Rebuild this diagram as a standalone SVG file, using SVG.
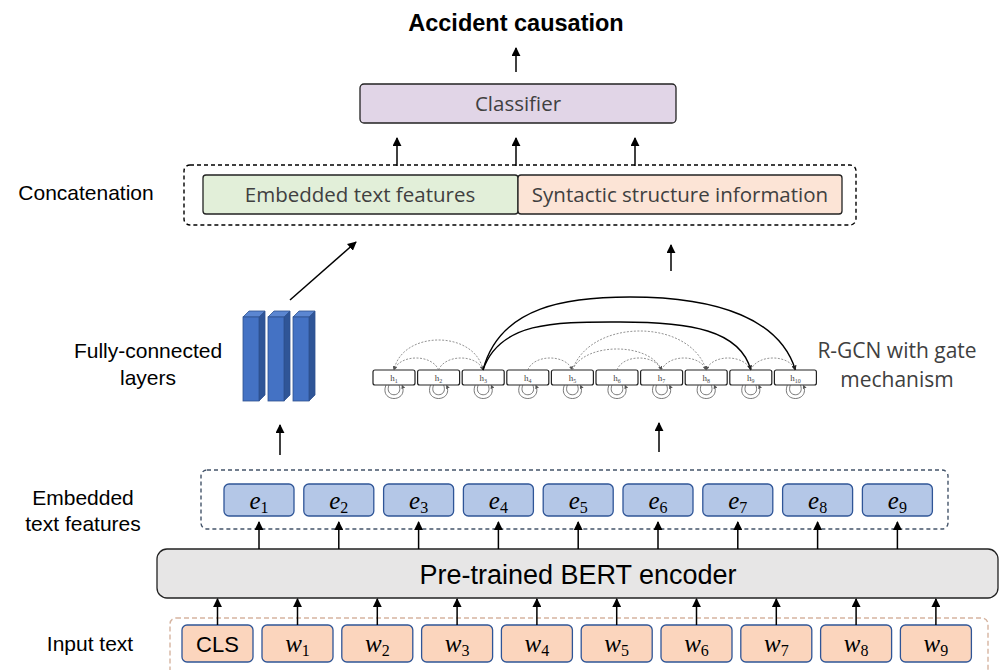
<svg xmlns="http://www.w3.org/2000/svg" width="1002" height="670" viewBox="0 0 1002 670">
<defs>
<marker id="arr" viewBox="0 0 10 10" refX="9" refY="5" markerWidth="9" markerHeight="9" markerUnits="userSpaceOnUse" orient="auto">
<path d="M0,0 L10,5 L0,10 z" fill="#000"/>
</marker>
<marker id="arrs" viewBox="0 0 10 10" refX="9" refY="5" markerWidth="5" markerHeight="5" markerUnits="userSpaceOnUse" orient="auto">
<path d="M0,0 L10,5 L0,10 z" fill="#222"/>
</marker>
<marker id="arrd" viewBox="0 0 10 10" refX="9" refY="5" markerWidth="4" markerHeight="4" markerUnits="userSpaceOnUse" orient="auto">
<path d="M0,0 L10,5 L0,10 z" fill="#555"/>
</marker>
</defs>
<style>
.lbl{font-family:"Liberation Sans",Arial,sans-serif;font-size:21px;fill:#000;text-anchor:middle}
.box{font-family:"Open Sans","DejaVu Sans",sans-serif;font-size:20.5px;fill:#404040;text-anchor:middle}
.math{font-family:"Liberation Serif","DejaVu Serif",serif;font-style:italic;font-size:25px;fill:#000;text-anchor:middle}
.sub{font-style:normal;font-size:16px}
.ebox{fill:#b4c7e7;stroke:#2f5597;stroke-width:1.3}
.wbox{fill:#fbd5bd;stroke:#2f5597;stroke-width:1.3}
.con{stroke:#000;stroke-width:1.5;fill:none;marker-end:url(#arr)}
.hbox{fill:#fff;stroke:#222;stroke-width:1.2}
.ht{font-family:"Liberation Serif","DejaVu Serif",serif;font-size:9px;fill:#444;text-anchor:middle}
.hs{font-size:6px}
.solid{stroke:#000;stroke-width:1.4;fill:none;marker-end:url(#arrs)}
.dash{stroke:#777;stroke-width:0.8;stroke-dasharray:2 1.5;fill:none;marker-end:url(#arrd)}
.loop{stroke:#555;stroke-width:0.8;fill:none}
.front{fill:#4472c4;stroke:#2f528f;stroke-width:0.8}
.side{fill:#2f5597;stroke:#2f528f;stroke-width:0.8}
.top{fill:#5b86d1;stroke:#2f528f;stroke-width:0.8}
</style>

<text x="516" y="31" font-family="Liberation Sans,Arial,sans-serif" font-size="23.5" font-weight="bold" text-anchor="middle">Accident causation</text>

<g id="classifier">
<rect x="360" y="84" width="316" height="39" rx="4" fill="#e1d5e7" stroke="#222" stroke-width="1.3"/>
<text class="box" x="518" y="111">Classifier</text>
</g>

<g id="concatenation">
<rect x="184" y="165" width="672" height="60" rx="6" fill="none" stroke="#000" stroke-width="1.4" stroke-dasharray="4 3"/>
<text class="lbl" x="86" y="200">Concatenation</text>
</g>
<g id="concat-embedded">
<rect x="203" y="175" width="315" height="39" rx="3" fill="#e2efd9" stroke="#222" stroke-width="1.3"/>
<text class="box" x="360" y="202">Embedded text features</text>
</g>
<g id="concat-syntactic">
<rect x="518" y="175" width="324" height="39" rx="3" fill="#fce4d6" stroke="#222" stroke-width="1.3"/>
<text class="box" x="680" y="202">Syntactic structure information</text>
</g>

<g id="fc-layers">
<polygon class="side" points="259,317 265,311 265,395 259,401"/>
<polygon class="top" points="243,317 249,311 265,311 259,317"/>
<rect class="front" x="243" y="317" width="16" height="84"/>
<polygon class="side" points="284,317 290,311 290,395 284,401"/>
<polygon class="top" points="268,317 274,311 290,311 284,317"/>
<rect class="front" x="268" y="317" width="16" height="84"/>
<polygon class="side" points="309,317 315,311 315,395 309,401"/>
<polygon class="top" points="293,317 299,311 315,311 309,317"/>
<rect class="front" x="293" y="317" width="16" height="84"/>
<text class="lbl" x="148" y="358">Fully-connected</text>
<text class="lbl" x="148" y="385">layers</text>
</g>

<g id="rgcn">
<text class="box" x="897" y="358" style="font-size:21px">R-GCN with gate</text>
<text class="box" x="897" y="387" style="font-size:21px">mechanism</text>
<g id="h-nodes">
<rect class="hbox" x="373" y="370" width="42" height="15" rx="2"/><text class="ht" x="394" y="381">h<tspan class="hs" dy="2">1</tspan></text>
<rect class="hbox" x="417.6" y="370" width="42" height="15" rx="2"/><text class="ht" x="438.6" y="381">h<tspan class="hs" dy="2">2</tspan></text>
<rect class="hbox" x="462.2" y="370" width="42" height="15" rx="2"/><text class="ht" x="483.2" y="381">h<tspan class="hs" dy="2">3</tspan></text>
<rect class="hbox" x="506.8" y="370" width="42" height="15" rx="2"/><text class="ht" x="527.8" y="381">h<tspan class="hs" dy="2">4</tspan></text>
<rect class="hbox" x="551.4" y="370" width="42" height="15" rx="2"/><text class="ht" x="572.4" y="381">h<tspan class="hs" dy="2">5</tspan></text>
<rect class="hbox" x="596" y="370" width="42" height="15" rx="2"/><text class="ht" x="617" y="381">h<tspan class="hs" dy="2">6</tspan></text>
<rect class="hbox" x="640.6" y="370" width="42" height="15" rx="2"/><text class="ht" x="661.6" y="381">h<tspan class="hs" dy="2">7</tspan></text>
<rect class="hbox" x="685.2" y="370" width="42" height="15" rx="2"/><text class="ht" x="706.2" y="381">h<tspan class="hs" dy="2">8</tspan></text>
<rect class="hbox" x="729.8" y="370" width="42" height="15" rx="2"/><text class="ht" x="750.8" y="381">h<tspan class="hs" dy="2">9</tspan></text>
<rect class="hbox" x="774.4" y="370" width="42" height="15" rx="2"/><text class="ht" x="795.4" y="381">h<tspan class="hs" dy="2">10</tspan></text>
</g>
<g id="h-loops">
<path class="loop" d="M386,385 C379,403 409,403 402,385" marker-end="url(#arrd)"/><path class="loop" d="M389,385 C384,398 404,398 399,385"/>
<path class="loop" d="M430.6,385 C423.6,403 453.6,403 446.6,385" marker-end="url(#arrd)"/><path class="loop" d="M433.6,385 C428.6,398 448.6,398 443.6,385"/>
<path class="loop" d="M475.2,385 C468.2,403 498.2,403 491.2,385" marker-end="url(#arrd)"/><path class="loop" d="M478.2,385 C473.2,398 493.2,398 488.2,385"/>
<path class="loop" d="M519.8,385 C512.8,403 542.8,403 535.8,385" marker-end="url(#arrd)"/><path class="loop" d="M522.8,385 C517.8,398 537.8,398 532.8,385"/>
<path class="loop" d="M564.4,385 C557.4,403 587.4,403 580.4,385" marker-end="url(#arrd)"/><path class="loop" d="M567.4,385 C562.4,398 582.4,398 577.4,385"/>
<path class="loop" d="M609,385 C602,403 632,403 625,385" marker-end="url(#arrd)"/><path class="loop" d="M612,385 C607,398 627,398 622,385"/>
<path class="loop" d="M653.6,385 C646.6,403 676.6,403 669.6,385" marker-end="url(#arrd)"/><path class="loop" d="M656.6,385 C651.6,398 671.6,398 666.6,385"/>
<path class="loop" d="M698.2,385 C691.2,403 721.2,403 714.2,385" marker-end="url(#arrd)"/><path class="loop" d="M701.2,385 C696.2,398 716.2,398 711.2,385"/>
<path class="loop" d="M742.8,385 C735.8,403 765.8,403 758.8,385" marker-end="url(#arrd)"/><path class="loop" d="M745.8,385 C740.8,398 760.8,398 755.8,385"/>
<path class="loop" d="M787.4,385 C780.4,403 810.4,403 803.4,385" marker-end="url(#arrd)"/><path class="loop" d="M790.4,385 C785.4,398 805.4,398 800.4,385"/>
</g>
<g id="h-arcs">
<path class="dash" d="M483,370 C475,330 402,330 394,370"/>
<path class="dash" d="M438.6,370 C432,354 400,354 394,370"/>
<path class="dash" d="M438.6,370 C445,354 477,354 483,370"/>
<path class="dash" d="M527.8,370 C534,354 566,354 572.4,370"/>
<path class="dash" d="M572.4,370 C584,342 650,342 661.6,370"/>
<path class="dash" d="M572.4,370 C590,318 690,318 706.2,370"/>
<path class="dash" d="M617,370 C623,354 655,354 661.6,370"/>
<path class="dash" d="M661.6,370 C668,354 700,354 706.2,370"/>
<path class="dash" d="M750.8,370 C744,354 712,354 706.2,370"/>
<path class="dash" d="M750.8,370 C757,354 789,354 795.4,370"/>
<path class="solid" d="M483,370 C500,320 560,322 620,322 C690,322 740,330 750.8,370"/>
<path class="solid" d="M483,370 C500,305 570,297 630,297 C720,297 780,320 795.4,370"/>
</g>
</g>

<g id="embedded-features">
<text class="lbl" x="83" y="505">Embedded</text>
<text class="lbl" x="83" y="531">text features</text>
<rect x="201" y="470" width="747" height="59" rx="6" fill="none" stroke="#44546a" stroke-width="1.4" stroke-dasharray="4 3"/>
<rect class="ebox" x="224" y="484" width="70" height="32" rx="5"/><text class="math" x="259" y="509">e<tspan class="sub" dy="4">1</tspan></text>
<rect class="ebox" x="303.8" y="484" width="70" height="32" rx="5"/><text class="math" x="338.8" y="509">e<tspan class="sub" dy="4">2</tspan></text>
<rect class="ebox" x="383.6" y="484" width="70" height="32" rx="5"/><text class="math" x="418.6" y="509">e<tspan class="sub" dy="4">3</tspan></text>
<rect class="ebox" x="463.4" y="484" width="70" height="32" rx="5"/><text class="math" x="498.4" y="509">e<tspan class="sub" dy="4">4</tspan></text>
<rect class="ebox" x="543.2" y="484" width="70" height="32" rx="5"/><text class="math" x="578.2" y="509">e<tspan class="sub" dy="4">5</tspan></text>
<rect class="ebox" x="623" y="484" width="70" height="32" rx="5"/><text class="math" x="658" y="509">e<tspan class="sub" dy="4">6</tspan></text>
<rect class="ebox" x="702.8" y="484" width="70" height="32" rx="5"/><text class="math" x="737.8" y="509">e<tspan class="sub" dy="4">7</tspan></text>
<rect class="ebox" x="782.6" y="484" width="70" height="32" rx="5"/><text class="math" x="817.6" y="509">e<tspan class="sub" dy="4">8</tspan></text>
<rect class="ebox" x="862.4" y="484" width="70" height="32" rx="5"/><text class="math" x="897.4" y="509">e<tspan class="sub" dy="4">9</tspan></text>
</g>

<g id="bert">
<rect x="157" y="549" width="841" height="49" rx="10" fill="#e7e6e6" stroke="#222" stroke-width="1.3"/>
<text x="578" y="584" font-family="Liberation Sans,Arial,sans-serif" font-size="27" text-anchor="middle" fill="#000">Pre-trained BERT encoder</text>
</g>

<g id="input-text">
<text class="lbl" x="90" y="651">Input text</text>
<rect x="170" y="618" width="818" height="60" rx="6" fill="none" stroke="#d6b4a0" stroke-width="1.4" stroke-dasharray="5 3"/>
<rect class="wbox" x="182" y="625" width="71" height="37" rx="5"/><text x="217.5" y="652" font-family="Liberation Sans,Arial,sans-serif" font-size="22" text-anchor="middle">CLS</text>
<rect class="wbox" x="262" y="625" width="71" height="37" rx="5"/><text class="math" x="297.5" y="652">w<tspan class="sub" dy="4">1</tspan></text>
<rect class="wbox" x="341.8" y="625" width="71" height="37" rx="5"/><text class="math" x="377.3" y="652">w<tspan class="sub" dy="4">2</tspan></text>
<rect class="wbox" x="421.6" y="625" width="71" height="37" rx="5"/><text class="math" x="457.1" y="652">w<tspan class="sub" dy="4">3</tspan></text>
<rect class="wbox" x="501.4" y="625" width="71" height="37" rx="5"/><text class="math" x="536.9" y="652">w<tspan class="sub" dy="4">4</tspan></text>
<rect class="wbox" x="581.2" y="625" width="71" height="37" rx="5"/><text class="math" x="616.7" y="652">w<tspan class="sub" dy="4">5</tspan></text>
<rect class="wbox" x="661" y="625" width="71" height="37" rx="5"/><text class="math" x="696.5" y="652">w<tspan class="sub" dy="4">6</tspan></text>
<rect class="wbox" x="740.8" y="625" width="71" height="37" rx="5"/><text class="math" x="776.3" y="652">w<tspan class="sub" dy="4">7</tspan></text>
<rect class="wbox" x="820.6" y="625" width="71" height="37" rx="5"/><text class="math" x="856.1" y="652">w<tspan class="sub" dy="4">8</tspan></text>
<rect class="wbox" x="900.4" y="625" width="71" height="37" rx="5"/><text class="math" x="935.9" y="652">w<tspan class="sub" dy="4">9</tspan></text>
</g>

<g id="connectors">
<line class="con" x1="516" y1="72" x2="516" y2="48"/>
<line class="con" x1="397" y1="166" x2="397" y2="138"/>
<line class="con" x1="516" y1="166" x2="516" y2="138"/>
<line class="con" x1="635" y1="166" x2="635" y2="138"/>
<line class="con" x1="290" y1="300" x2="356" y2="242"/>
<line class="con" x1="671" y1="271" x2="671" y2="245"/>
<line class="con" x1="280" y1="455" x2="280" y2="425"/>
<line class="con" x1="659" y1="452" x2="659" y2="423"/>
<line class="con" x1="259" y1="549" x2="259" y2="522"/>
<line class="con" x1="338.8" y1="549" x2="338.8" y2="522"/>
<line class="con" x1="418.6" y1="549" x2="418.6" y2="522"/>
<line class="con" x1="498.4" y1="549" x2="498.4" y2="522"/>
<line class="con" x1="578.2" y1="549" x2="578.2" y2="522"/>
<line class="con" x1="658" y1="549" x2="658" y2="522"/>
<line class="con" x1="737.8" y1="549" x2="737.8" y2="522"/>
<line class="con" x1="817.6" y1="549" x2="817.6" y2="522"/>
<line class="con" x1="897.4" y1="549" x2="897.4" y2="522"/>
<line class="con" x1="217.5" y1="625" x2="217.5" y2="599"/>
<line class="con" x1="297.5" y1="625" x2="297.5" y2="599"/>
<line class="con" x1="377.3" y1="625" x2="377.3" y2="599"/>
<line class="con" x1="457.1" y1="625" x2="457.1" y2="599"/>
<line class="con" x1="536.9" y1="625" x2="536.9" y2="599"/>
<line class="con" x1="616.7" y1="625" x2="616.7" y2="599"/>
<line class="con" x1="696.5" y1="625" x2="696.5" y2="599"/>
<line class="con" x1="776.3" y1="625" x2="776.3" y2="599"/>
<line class="con" x1="856.1" y1="625" x2="856.1" y2="599"/>
<line class="con" x1="935.9" y1="625" x2="935.9" y2="599"/>
</g>
</svg>
